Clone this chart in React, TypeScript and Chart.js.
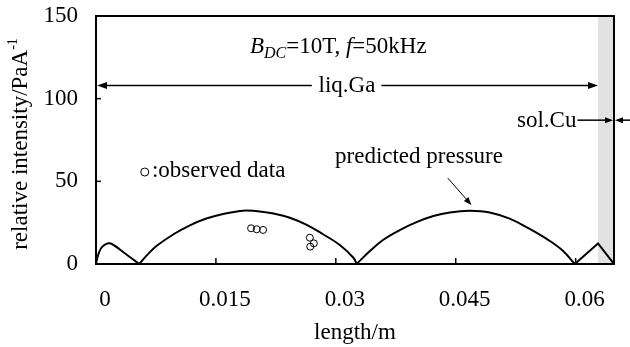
import React, { useEffect, useRef } from "react";
import { Chart, registerables } from "chart.js";

Chart.register(...registerables);

const FONT = '"Liberation Serif", "Times New Roman", serif';
const FS = 23;

// axis ticks
const xTickValues = [0, 0.015, 0.03, 0.045, 0.06];
const yTickValues = [0, 50, 100, 150];

// predicted pressure curve, split at cusps
const tailLeftX = [0, 0.0003, 0.0008, 0.00175, 0.0036, 0.0054];
const tailLeftY = [0, 6, 10.5, 12.5, 6.5, 0];

const arch1X = [0.0054, 0.0065, 0.0076, 0.0097, 0.01175, 0.0138, 0.0159, 0.018, 0.0188, 0.0205, 0.0222, 0.02425, 0.0263, 0.0284, 0.0305, 0.0322, 0.0326];
const arch1Y = [0, 6, 11, 18, 23.4, 27.5, 30.3, 32, 32.3, 31.8, 30.6, 28, 23.8, 18, 11.5, 3.8, 0];

const arch2X = [0.0326, 0.0342, 0.0359, 0.038, 0.0401, 0.0422, 0.04425, 0.04675, 0.04925, 0.05175, 0.05425, 0.05675, 0.0584, 0.0599];
const arch2Y = [0, 7.5, 14.5, 20.5, 25.3, 29, 31.2, 32.2, 31.2, 27.4, 21.2, 14, 8, 0];

const tailRightX = [0.0599, 0.0628, 0.0648];
const tailRightY = [0, 12.4, 0];

// observed data
const observedX = [0.0194, 0.0201, 0.0209, 0.02675, 0.02725, 0.0268];
const observedY = [21.6, 21, 20.6, 15.9, 12.5, 10.5];

// annotation texts
const conditionParts = [
  { t: "B", italic: true, sub: false },
  { t: "DC", italic: true, sub: true },
  { t: "=10T, ", italic: false, sub: false },
  { t: "f", italic: true, sub: false },
  { t: "=50kHz", italic: false, sub: false },
];
const liquidLabel = "liq.Ga";
const solidLabel = "sol.Cu";
const observedLabel = ":observed data";
const predictedLabel = "predicted pressure";
const yTitle = "relative intensity/PaA";
const yTitleSup = "-1";
const xTitle = "length/m";

const X_MIN = 0;
const X_MAX = 0.0648;
const Y_MIN = 0;
const Y_MAX = 150;
const SOLID_START = 0.0628;

const toPts = (xs: number[], ys: number[]) => xs.map((x, i) => ({ x, y: ys[i] }));

function arrow(ctx: CanvasRenderingContext2D, x1: number, y1: number, x2: number, y2: number, head = 10, half = 3.5, lw = 1.5) {
  ctx.save();
  ctx.strokeStyle = "#000";
  ctx.fillStyle = "#000";
  ctx.lineWidth = lw;
  const a = Math.atan2(y2 - y1, x2 - x1);
  const bx = x2 - head * Math.cos(a);
  const by = y2 - head * Math.sin(a);
  ctx.beginPath();
  ctx.moveTo(x1, y1);
  ctx.lineTo(bx, by);
  ctx.stroke();
  ctx.beginPath();
  ctx.moveTo(x2, y2);
  ctx.lineTo(bx + half * Math.sin(a), by - half * Math.cos(a));
  ctx.lineTo(bx - half * Math.sin(a), by + half * Math.cos(a));
  ctx.closePath();
  ctx.fill();
  ctx.restore();
}

const bandPlugin = {
  id: "band",
  beforeDatasetsDraw(chart: any) {
    const { ctx, chartArea, scales } = chart;
    const x0 = scales.x.getPixelForValue(SOLID_START);
    ctx.save();
    ctx.fillStyle = "#e2e2e2";
    ctx.fillRect(x0, chartArea.top, chartArea.right - x0, chartArea.bottom - chartArea.top);
    ctx.restore();
  },
};

const framePlugin = {
  id: "frame",
  afterDatasetsDraw(chart: any) {
    const { ctx, chartArea, scales } = chart;
    ctx.save();
    ctx.strokeStyle = "#000";
    ctx.lineWidth = 2;
    ctx.strokeRect(chartArea.left, chartArea.top, chartArea.right - chartArea.left, chartArea.bottom - chartArea.top);
    ctx.lineWidth = 1.5;
    xTickValues.forEach((v) => {
      if (v <= X_MIN || v >= X_MAX) return;
      const px = scales.x.getPixelForValue(v);
      ctx.beginPath();
      ctx.moveTo(px, chartArea.bottom);
      ctx.lineTo(px, chartArea.bottom - 6);
      ctx.stroke();
    });
    yTickValues.forEach((v) => {
      if (v <= Y_MIN || v >= Y_MAX) return;
      const py = scales.y.getPixelForValue(v);
      ctx.beginPath();
      ctx.moveTo(chartArea.left, py);
      ctx.lineTo(chartArea.left + 5, py);
      ctx.stroke();
    });
    ctx.restore();
  },
};

const annotationPlugin = {
  id: "annotations",
  afterDraw(chart: any) {
    const { ctx, scales, chartArea } = chart;
    const X = (v: number) => scales.x.getPixelForValue(v);
    const Y = (v: number) => scales.y.getPixelForValue(v);
    ctx.save();
    ctx.fillStyle = "#000";
    ctx.textBaseline = "alphabetic";

    // condition text
    let cx = X(0.01925);
    const cy = Y(127.6);
    conditionParts.forEach((p) => {
      const size = p.sub ? 16 : FS;
      ctx.font = `${p.italic ? "italic " : ""}${size}px ${FONT}`;
      ctx.fillText(p.t, cx, cy + (p.sub ? 5 : 0));
      cx += ctx.measureText(p.t).width;
    });

    // liq.Ga arrow
    const ly = Y(108);
    ctx.font = `${FS}px ${FONT}`;
    ctx.textBaseline = "middle";
    ctx.textAlign = "center";
    ctx.fillText(liquidLabel, X(0.0314), ly + 1);
    arrow(ctx, X(0.027), ly, X(0) + 1, ly);
    arrow(ctx, X(0.0357), ly, X(SOLID_START), ly);

    // sol.Cu
    const sy = Y(87);
    ctx.textAlign = "right";
    ctx.fillText(solidLabel, X(0.0601), sy + 1);
    arrow(ctx, X(0.0601) + 1, sy, chartArea.right - 1, sy, 8, 3);
    arrow(ctx, X(0.0675), sy, chartArea.right + 1, sy, 8, 3);

    // observed data label
    ctx.textAlign = "left";
    ctx.textBaseline = "alphabetic";
    const oy = Y(52.6);
    ctx.beginPath();
    ctx.lineWidth = 1;
    ctx.strokeStyle = "#000";
    ctx.arc(X(0.0061), oy - 5, 4, 0, Math.PI * 2);
    ctx.stroke();
    ctx.fillText(observedLabel, X(0.007), oy);

    // predicted pressure label and arrow
    ctx.fillText(predictedLabel, X(0.0299), Y(61.1));
    arrow(ctx, X(0.044), Y(52), X(0.04696), Y(35.7), 8, 3, 1);

    // y title with superscript
    ctx.save();
    ctx.translate(21, (chartArea.top + chartArea.bottom) / 2 + 4);
    ctx.rotate(-Math.PI / 2);
    ctx.font = `${FS}px ${FONT}`;
    const w1 = ctx.measureText(yTitle).width;
    ctx.font = `14px ${FONT}`;
    const w2 = ctx.measureText(yTitleSup).width;
    const start = -(w1 + w2) / 2;
    ctx.textAlign = "left";
    ctx.textBaseline = "middle";
    ctx.font = `${FS}px ${FONT}`;
    ctx.fillText(yTitle, start, 0);
    ctx.font = `14px ${FONT}`;
    ctx.fillText(yTitleSup, start + w1, -8);
    ctx.restore();

    ctx.restore();
  },
};

export default function App() {
  const ref = useRef<HTMLCanvasElement>(null);
  useEffect(() => {
    if (!ref.current) return;
    const lineDs = (xs: number[], ys: number[], tension: number) => ({
      type: "line" as const,
      data: toPts(xs, ys),
      borderColor: "#000",
      borderWidth: 2,
      pointRadius: 0,
      tension,
      fill: false,
    });
    const chart = new Chart(ref.current, {
      type: "line",
      data: {
        datasets: [
          lineDs(tailLeftX, tailLeftY, 0.3),
          lineDs(arch1X, arch1Y, 0.4),
          lineDs(arch2X, arch2Y, 0.4),
          lineDs(tailRightX, tailRightY, 0),
          {
            type: "line" as const,
            data: toPts(observedX, observedY),
            showLine: false,
            pointStyle: "circle",
            pointRadius: 3.5,
            pointBorderWidth: 1,
            pointBorderColor: "#000",
            pointBackgroundColor: "rgba(255,255,255,0)",
            borderColor: "#000",
          },
        ],
      },
      options: {
        responsive: false,
        animation: false,
        devicePixelRatio: 1,
        layout: { padding: { top: 16, right: 16, left: 0, bottom: 0 } },
        plugins: { legend: { display: false }, tooltip: { enabled: false } },
        scales: {
          x: {
            type: "linear",
            min: X_MIN,
            max: X_MAX,
            afterBuildTicks: (s: any) => {
              s.ticks = xTickValues.map((v) => ({ value: v }));
            },
            afterFit: (s: any) => {
              s.height = 83;
              s.paddingLeft = 0;
              s.paddingRight = 0;
            },
            grid: { display: false },
            border: { display: false },
            ticks: {
              color: "#000",
              font: { family: FONT, size: FS },
              padding: 14,
              labelOffset: 9,
              maxRotation: 0,
              autoSkip: false,
              callback: (v: any) => String(v),
            },
            title: {
              display: true,
              text: xTitle,
              color: "#000",
              font: { family: FONT, size: FS },
              padding: { top: 0, bottom: 0 },
            },
          },
          y: {
            type: "linear",
            min: Y_MIN,
            max: Y_MAX,
            afterBuildTicks: (s: any) => {
              s.ticks = yTickValues.map((v) => ({ value: v }));
            },
            afterFit: (s: any) => {
              s.width = 96;
              s.paddingTop = 0;
              s.paddingBottom = 0;
            },
            grid: { display: false },
            border: { display: false },
            ticks: {
              color: "#000",
              font: { family: FONT, size: FS },
              padding: 10,
              callback: (v: any) => String(v),
            },
          },
        },
      },
      plugins: [bandPlugin, framePlugin, annotationPlugin],
    });
    return () => chart.destroy();
  }, []);
  return (
    <div style={{ position: "fixed", left: 0, top: 0, width: 630, height: 347, background: "#fff" }}>
      <canvas ref={ref} width={630} height={347} style={{ width: 630, height: 347, display: "block" }} />
    </div>
  );
}
